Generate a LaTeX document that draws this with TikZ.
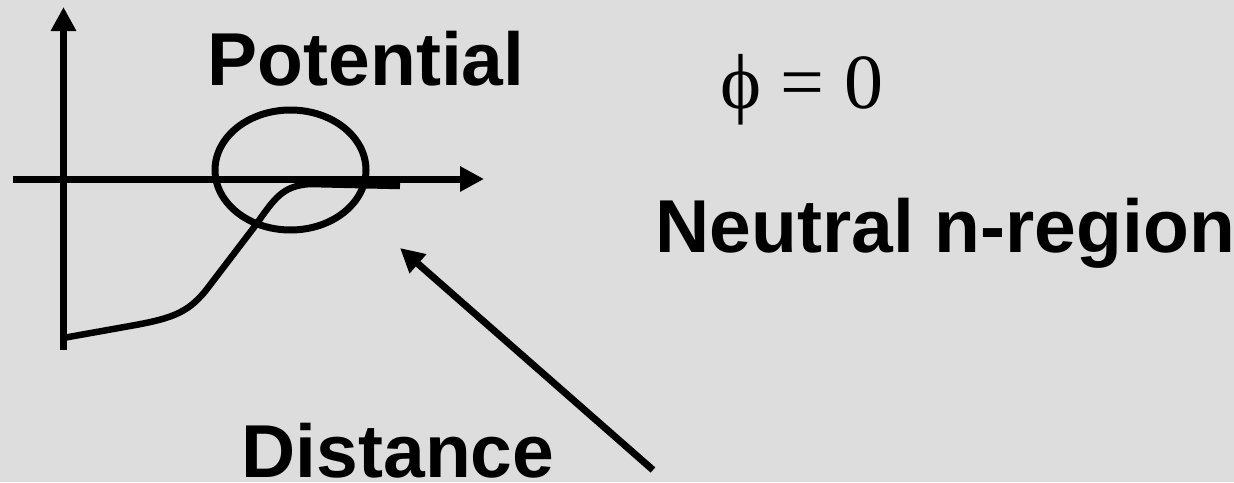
\documentclass[tikz,border=0pt]{standalone}
\usepackage{fontspec}
\setmainfont{Liberation Sans}
\newfontfamily\serifgreek{Liberation Serif}
\usetikzlibrary{arrows.meta,shapes.geometric}
\definecolor{bggray}{RGB}{221,221,221}
\tikzset{
  stroke/.style={line width=7pt, black},
  arrowstroke/.style={stroke, -{Triangle[length=24pt,width=24pt]}},
  boldlabel/.style={inner sep=0pt, anchor=base west, font=\fontsize{75pt}{80pt}\selectfont\bfseries},
  mathlabel/.style={inner sep=0pt, anchor=base west, font=\fontsize{78pt}{82pt}\selectfont\serifgreek}
}
\begin{document}
\begin{tikzpicture}[x=1pt,y=-1pt]
  \fill[bggray] (0,0) rectangle (1234,482);
  \useasboundingbox (0,0) rectangle (1234,482);
  % axes
  \coordinate (ybot) at (63.5,350);
  \coordinate (ytop) at (63.5,7);
  \coordinate (xleft) at (13,179);
  \coordinate (xright) at (484,179);
  \draw[arrowstroke] (ybot) -- (ytop);
  \draw[arrowstroke] (xleft) -- (xright);
  % potential curve
  \draw[line width=6.5pt] (63,338) -- (130,326) .. controls (175,318) and (190,312) .. (210,285)
        -- (255,226) .. controls (275,198) and (282,186) .. (310,184) -- (400,186);
  % ellipse
  \node[draw, line width=7pt, ellipse, minimum width=151pt, minimum height=120pt, inner sep=0pt, outer sep=0pt] (circ) at (290.5,170) {};
  % labels
  \node[boldlabel] (pot) at (207.5,85) {Potential};
  \node[boldlabel] (neu) at (655.5,252) {Neutral n-region};
  \node[boldlabel] (dist) at (241.5,477) {Distance};
  \node[mathlabel] (phi) at (720,108) {\symbol{"03D5} = 0};
  % pointer arrow
  \coordinate (ptail) at (653,470);
  \coordinate (phead) at (400,248);
  \draw[arrowstroke] (ptail) -- (phead);
\end{tikzpicture}
\end{document}
